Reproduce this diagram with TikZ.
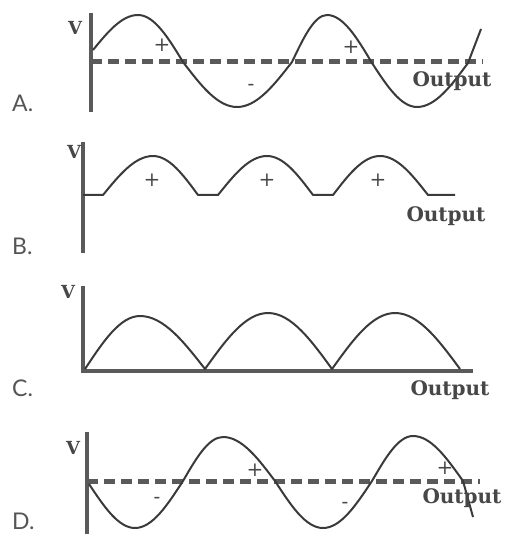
\documentclass[tikz,border=0pt]{standalone}
\usepackage{fontspec}
\setmainfont{DejaVu Serif}
\newfontfamily\letterfont{Lato}
\definecolor{axisgray}{HTML}{5A5A5A}
\definecolor{wavegray}{HTML}{3A3A3A}
\definecolor{textgray}{HTML}{474747}
\definecolor{lettergray}{HTML}{555555}

\begin{document}
\begin{tikzpicture}[
  x=1pt, y=-1pt,
  axis/.style={draw=axisgray, line width=4.5pt},
  zeroline/.style={draw=axisgray, line width=5pt, dash pattern=on 11pt off 6pt},
  wave/.style={draw=wavegray, line width=2pt, line join=round},
  vlabel/.style={font=\fontsize{18}{18}\selectfont\bfseries, text=textgray, inner sep=0pt, anchor=base},
  outlabel/.style={font=\fontsize{20}{20}\selectfont\bfseries, text=textgray, inner sep=0pt, anchor=base},
  sign/.style={font=\fontsize{20}{20}\selectfont, text=textgray, inner sep=0pt},
  choice/.style={font=\letterfont\fontsize{23}{23}\selectfont, text=lettergray, inner sep=0pt, anchor=base west},
]
  \useasboundingbox (0,0) rectangle (504,534);

  % Panel A
  \draw[axis] (91,13) -- (91,112);
  \draw[zeroline] (91,62) -- (483,62);
  \draw[wave] (93,50) sin (138,15) cos (183,62) sin (237,107) cos (292,62)
    sin (327,15) cos (372,63) sin (417,107) cos (468,63) -- (481,29);
  \node[choice] (choiceA) at (12,112) {A.};
  \node[vlabel] (vA) at (75,35) {V};
  \node[outlabel] (outA) at (452,87) {Output};
  \node[sign] (plusA1) at (162,45) {+};
  \node[sign] (plusA2) at (351,47) {+};
  \node[sign] (minusA1) at (251,87) {-};

  % Panel B
  \draw[axis] (83,142) -- (83,253);
  \draw[wave] (83,195) -- (103,195) sin (153,156) cos (198,195) -- (218,195)
    sin (267,156) cos (313,195) -- (333,195) sin (380,156) cos (428,195) -- (455,195);
  \node[choice] (choiceB) at (12,254) {B.};
  \node[vlabel] (vB) at (74,159) {V};
  \node[outlabel] (outB) at (446,222) {Output};
  \node[sign] (plusB1) at (152,180) {+};
  \node[sign] (plusB2) at (267,180) {+};
  \node[sign] (plusB3) at (378,180) {+};

  % Panel C
  \draw[axis] (83,286) -- (83,371) -- (473,371);
  \draw[wave] (85,369) sin (140,316) cos (205,369) sin (268,313) cos (332,369)
    sin (395,313) cos (460,369);
  \node[choice] (choiceC) at (12,396) {C.};
  \node[vlabel] (vC) at (68,298) {V};
  \node[outlabel] (outC) at (450,395) {Output};

  % Panel D
  \draw[axis] (87,432) -- (87,534);
  \draw[zeroline] (87,481) -- (480,481);
  \draw[wave] (89,484) sin (135,528) cos (183,481) sin (223,437) cos (275,481)
    sin (323,528) cos (372,481) sin (413,436) cos (463,481) -- (473,517);
  \node[choice] (choiceD) at (12,529) {D.};
  \node[vlabel] (vD) at (73,454) {V};
  \node[outlabel] (outD) at (462,503) {Output};
  \node[sign] (plusD1) at (255,470) {+};
  \node[sign] (plusD2) at (445,468) {+};
  \node[sign] (minusD1) at (157,500) {-};
  \node[sign] (minusD2) at (345,505) {-};

\end{tikzpicture}
\end{document}
